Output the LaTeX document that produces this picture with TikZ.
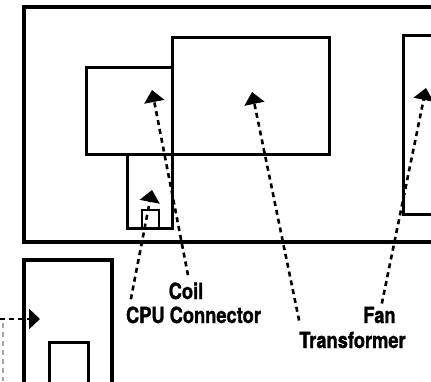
\documentclass[tikz,border=0pt]{standalone}
\usepackage{fontspec}
\setmainfont{TeX Gyre Heros}[FakeStretch=0.84]
\newfontfamily\lblfont{TeX Gyre Heros}[FakeStretch=0.82, FakeBold=1.2]
\usepackage{tikz}
\usetikzlibrary{calc, arrows.meta, positioning}

\begin{document}
\begin{tikzpicture}[x=1pt, y=-1pt, >={Triangle[width=20pt, length=12pt]}]
		\tikzstyle{box} = [draw=black, line width=3pt, rectangle, inner sep=0pt, outer sep=0pt]
		\tikzstyle{lbl} = [draw=none, inner sep=0pt, anchor=base, font=\lblfont\bfseries\fontsize{22.3}{24}\selectfont]
		\tikzstyle{ptr} = [->, line width=2.6pt, dash pattern=on 5pt off 4pt]
		
		\useasboundingbox (0,0) rectangle (431,381);
		\clip (0,0) rectangle (431,381);
		
		% case and parts
		\node[box, line width=3.5pt, minimum width=436pt, minimum height=235pt] at (242, 124.5)	(case) 	{};
		\node[box, minimum width=86pt, minimum height=87pt] 	at (129, 110.5)		(coil) 	{};
		\node[box, minimum width=157pt, minimum height=117pt] 	at (250.5, 95.5)	(xfmr) 	{};
		\node[box, minimum width=67pt, minimum height=179pt] 	at (436.5, 124.5)	(fan) 	{};
		\node[box, minimum width=45pt, minimum height=74pt] 	at (149.5, 191)		(slot) 	{};
		\node[box, line width=2.5pt, minimum width=17pt, minimum height=18pt] 	at (150.5, 219)		(cpu) 	{};
		
		% board below
		\node[box, line width=3.5pt, minimum width=88pt, minimum height=140pt] 	at (68, 330)	(board) 	{};
		\node[box, minimum width=39pt, minimum height=58pt] 	at (68.5, 371)		(chip) 	{};
		
		% labels
		\node[lbl] 	at (186, 299) 		(lcoil) 	{Coil};
		\node[lbl] 	at (193.5, 323) 	(lcpu) 	{CPU Connector};
		\node[lbl] 	at (379.5, 323) 	(lfan) 	{Fan};
		\node[lbl] 	at (352.5, 348) 	(lxfmr) 	{Transformer};
		
		\coordinate (tcoil) at (152, 90);
		\coordinate (tcpu) at (152, 190);
		\coordinate (txfmr) at (252, 92);
		\coordinate (tfan) at (426, 88);
		\coordinate (tboard) at (40, 319);
		\coordinate (offleft) at (0, 319);
		
		\draw[ptr] ($(lcoil.north)+(2,-7)$) -- (tcoil);
		\draw[ptr] ($(lcpu.north west)+(5,-7)$) -- (tcpu);
		\draw[ptr] ($(lxfmr.north west)+(0,-11)$) -- (txfmr);
		\draw[ptr] ($(lfan.north east)+(-14,-3)$) -- (tfan);
		\draw[ptr, >={Triangle[width=20pt, length=11pt]}] (offleft) -- (tboard);
		\draw[black!35, line width=1.5pt, dash pattern=on 5pt off 4pt] (3, 323) -- (3, 381);
\end{tikzpicture}
\end{document}
